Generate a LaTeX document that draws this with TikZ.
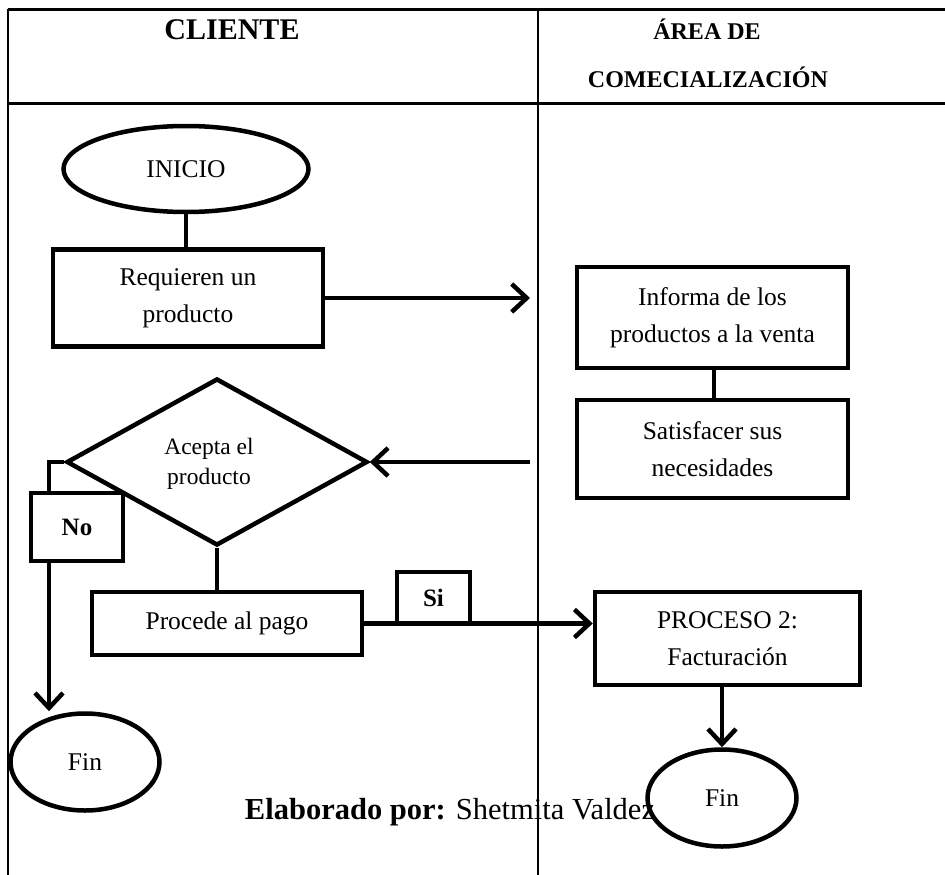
\documentclass[tikz,border=0pt]{standalone}
\usepackage{fontspec}
\setmainfont{Liberation Serif}
\usetikzlibrary{shapes.geometric,arrows.meta}
\begin{document}
\begin{tikzpicture}[x=1pt,y=-1pt,
  body/.style={font=\fontsize{25.5}{37}\selectfont},
  stepbox/.style={draw,line width=4.5pt,rectangle,align=center,inner sep=0pt,fill=white,body},
  term/.style={draw,line width=4.5pt,ellipse,inner sep=0pt,fill=white,body},
  decision/.style={draw,line width=4.5pt,diamond,inner sep=0pt,align=center,fill=white,
    font=\fontsize{23.5}{30}\selectfont},
  tag/.style={draw,line width=4.5pt,rectangle,inner sep=0pt,fill=white,
    font=\fontsize{25}{30}\selectfont\bfseries},
  link/.style={line width=4.5pt},
  arr/.style={line width=4.5pt,-{Straight Barb[length=15pt,width=28pt]}},
  frame/.style={line width=3pt},
  lane/.style={line width=2pt},
  head/.style={font=\bfseries}
]
\useasboundingbox (0,0) rectangle (945,875);

% swimlane table
\draw[frame] (8,10) -- (945,10);
\draw[frame] (8,103) -- (945,103);
\draw[lane] (8,9) -- (8,875);
\draw[lane] (538,9) -- (538,875);

\node[head,font=\fontsize{30}{36}\selectfont\bfseries] (hcli) at (232,30) {CLIENTE};
\node[head,font=\fontsize{24}{30}\selectfont\bfseries] (hare1) at (707,29) {ÁREA DE};
\node[head,font=\fontsize{24}{30}\selectfont\bfseries] (hare2) at (708,77) {COMECIALIZACIÓN};

% client lane
\node[term,minimum width=245pt,minimum height=86pt] (ini) at (186,169) {INICIO};
\node[stepbox,minimum width=270pt,minimum height=97pt] (req) at (188,298) {Requieren un\\producto};
\node[decision,minimum width=301pt,minimum height=167pt] (dia) at (217,462) {};
\node[font=\fontsize{23.5}{30}\selectfont,align=center] (dtxt) at (209,464) {Acepta el\\producto};
\node[stepbox,minimum width=270pt,minimum height=63pt] (proc) at (227,623.5) {Procede al pago};
\node[term,minimum width=149pt,minimum height=97pt] (fin1) at (85,762) {Fin};

% commercial lane
\node[stepbox,minimum width=271pt,minimum height=101pt] (inf) at (712.5,317.5) {Informa de los\\productos a la venta};
\node[stepbox,minimum width=271pt,minimum height=98pt] (sat) at (712.5,449) {Satisfacer sus\\necesidades};
\node[stepbox,minimum width=265pt,minimum height=93pt] (pr2) at (727.5,638.5) {PROCESO 2:\\Facturación};
\node[term,minimum width=149pt,minimum height=97pt] (fin2) at (722,798) {Fin};

% free ends of the lane-crossing arrows
\coordinate (reqend) at (530,298);
\coordinate (satend) at (530,462);
\coordinate (nocorner) at (49,462);

% connectors
\draw[link] (ini.south) -- (ini.south |- req.north);
\draw[arr] (req.east) -- (reqend);
\draw[link] (inf.south -| 714,0) -- (sat.north -| 714,0);
\draw[arr] (satend) -- (dia.east);
\draw[link] (dia.south) -- (dia.south |- proc.north);
\draw[arr] (dia.west) -- (nocorner) -- (nocorner |- fin1.north);
\draw[arr] (proc.east) -- (proc.east -| pr2.west);
\draw[arr] (fin2.north |- pr2.south) -- (fin2.north);

% branch labels
\node[tag,minimum width=92pt,minimum height=68pt] (no) at (77,527) {No};
\node[tag,minimum width=73pt,minimum height=51pt] (si) at (433.5,597.5) {Si};

% author line
\node[font=\fontsize{30.5}{36}\selectfont] (autor) at (450,812) {\textbf{Elaborado por:} Shetmita Valdez};
\end{tikzpicture}
\end{document}
